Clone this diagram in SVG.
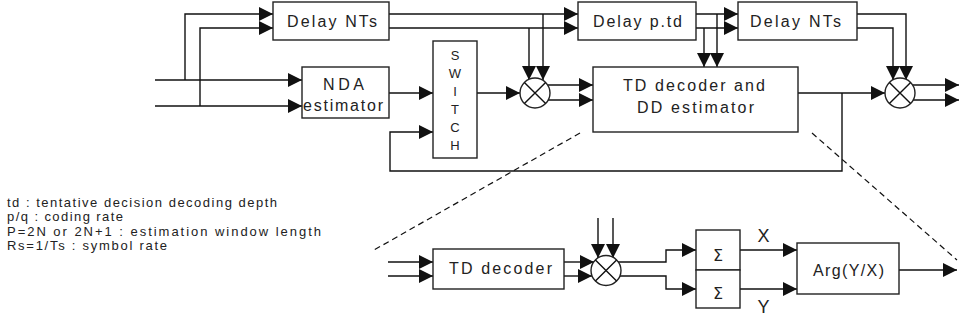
<svg xmlns="http://www.w3.org/2000/svg" width="959" height="321" viewBox="0 0 959 321">
<defs>
<marker id="ah" markerUnits="userSpaceOnUse" markerWidth="14" markerHeight="14" refX="14" refY="7" orient="auto">
<path d="M0,0 L14,7 L0,14 z" fill="#111"/>
</marker>
<style>
.box{fill:#fff;stroke:#222;stroke-width:1.4}
.ln{fill:none;stroke:#111;stroke-width:1.4}
.ar{fill:none;stroke:#111;stroke-width:1.4;marker-end:url(#ah)}
.dash{fill:none;stroke:#111;stroke-width:1.2;stroke-dasharray:6,4}
.t{font-family:"Liberation Sans",Arial,sans-serif;font-size:16px;fill:#222}
.s{font-family:"Liberation Sans",Arial,sans-serif;font-size:13px;fill:#222;text-anchor:middle}
.lg{font-family:"Liberation Sans",Arial,sans-serif;font-size:13px;fill:#222}
.sig{font-family:"DejaVu Sans",sans-serif;font-size:16px;fill:#222;text-anchor:middle}
.xy{font-family:"Liberation Sans",Arial,sans-serif;font-size:18px;fill:#222;text-anchor:middle}
</style>
</defs>
<rect width="959" height="321" fill="#fff"/>

<g id="connectors">
<path class="ar" d="M155,80 H302"/>
<path class="ar" d="M185,80 V14 H273"/>
<path class="ar" d="M155,106 H302"/>
<path class="ar" d="M200,106 V28 H273"/>
<path class="ar" d="M389,93 H433"/>
<path class="ar" d="M389,14 H578"/>
<path class="ar" d="M389,28 H578"/>
<path class="ar" d="M543,14 V80"/>
<path class="ar" d="M529,28 V80"/>
<path class="ar" d="M477,93 H520"/>
<path class="ar" d="M548,85 H593"/>
<path class="ar" d="M548,100 H593"/>
<path class="ar" d="M696,14 H738"/>
<path class="ar" d="M696,28 H738"/>
<path class="ar" d="M717,14 V67"/>
<path class="ar" d="M704,28 V67"/>
<path class="ar" d="M857,14 H906 V80"/>
<path class="ar" d="M857,28 H893 V80"/>
<path class="ar" d="M798,93 H885"/>
<path class="ar" d="M842,93 V171 H390 V132 H433"/>
<path class="ar" d="M913,85 H959"/>
<path class="ar" d="M913,100 H959"/>
<path class="dash" d="M580,133 L374,250"/>
<path class="dash" d="M812,133 L957,260"/>
<path class="ar" d="M388,262 H433"/>
<path class="ar" d="M388,276 H433"/>
<path class="ar" d="M564,262 H594"/>
<path class="ar" d="M564,276 H592"/>
<path class="ar" d="M598,218 V258"/>
<path class="ar" d="M613,218 V258"/>
<path class="ar" d="M618,262 H666 V250 H696"/>
<path class="ar" d="M620,276 H666 V289 H696"/>
<path class="ar" d="M740,250 H797"/>
<path class="ar" d="M740,289 H797"/>
<path class="ar" d="M899,270 H957"/>
</g>

<g id="delay1"><rect class="box" x="273" y="2" width="116" height="38"/><text class="t" x="287" y="26.5" textLength="90" lengthAdjust="spacing">Delay NTs</text></g>
<g id="delay2"><rect class="box" x="578" y="2" width="118" height="38"/><text class="t" x="593" y="26.5" textLength="89" lengthAdjust="spacing">Delay p.td</text></g>
<g id="delay3"><rect class="box" x="738" y="2" width="119" height="38"/><text class="t" x="750" y="26.5" textLength="91" lengthAdjust="spacing">Delay NTs</text></g>
<g id="nda"><rect class="box" x="302" y="67" width="87" height="51"/><text class="t" x="323" y="90" textLength="41" lengthAdjust="spacing">NDA</text><text class="t" x="303" y="111" textLength="80" lengthAdjust="spacing">estimator</text></g>
<g id="switch"><rect class="box" x="433" y="41" width="44" height="117"/>
<text class="s" x="455" y="59.5">S</text><text class="s" x="455" y="77.5">W</text><text class="s" x="455" y="95.5">I</text><text class="s" x="455" y="113.5">T</text><text class="s" x="455" y="131.5">C</text><text class="s" x="455" y="149.5">H</text></g>
<g id="mult1"><circle cx="535" cy="93" r="15" fill="#fff" stroke="#222" stroke-width="1.4"/><path class="ln" d="M524.4,82.4 L545.6,103.6 M545.6,82.4 L524.4,103.6"/></g>
<g id="tddd"><rect class="box" x="593" y="67" width="205" height="65"/><text class="t" x="623" y="91" textLength="142" lengthAdjust="spacing">TD decoder and</text><text class="t" x="637" y="113" textLength="117" lengthAdjust="spacing">DD estimator</text></g>
<g id="mult2"><circle cx="900" cy="93" r="15" fill="#fff" stroke="#222" stroke-width="1.4"/><path class="ln" d="M889.4,82.4 L910.6,103.6 M910.6,82.4 L889.4,103.6"/></g>

<g id="tddec"><rect class="box" x="433" y="249" width="131" height="40"/><text class="t" x="449" y="274" textLength="103" lengthAdjust="spacing">TD decoder</text></g>
<g id="mult3"><circle cx="606" cy="270.5" r="15" fill="#fff" stroke="#222" stroke-width="1.4"/><path class="ln" d="M595.4,259.9 L616.6,281.1 M616.6,259.9 L595.4,281.1"/></g>
<g id="sum1"><rect class="box" x="696" y="230" width="44" height="40"/><text class="sig" x="718" y="261">Σ</text></g>
<g id="sum2"><rect class="box" x="696" y="270" width="44" height="38"/><text class="sig" x="718" y="299">Σ</text></g>
<g id="arg"><rect class="box" x="797" y="243" width="102" height="51"/><text class="t" x="813" y="276" textLength="71" lengthAdjust="spacing">Arg(Y/X)</text></g>
<text class="xy" x="763.5" y="241.5">X</text>
<text class="xy" x="763.5" y="313">Y</text>

<g id="legend">
<text class="lg" x="7" y="206.5" textLength="270" lengthAdjust="spacing">td : tentative decision decoding depth</text>
<text class="lg" x="7" y="221" textLength="116" lengthAdjust="spacing">p/q : coding rate</text>
<text class="lg" x="7" y="235.5" textLength="314" lengthAdjust="spacing">P=2N or 2N+1 : estimation window length</text>
<text class="lg" x="7" y="250" textLength="160" lengthAdjust="spacing">Rs=1/Ts : symbol rate</text>
</g>
</svg>
